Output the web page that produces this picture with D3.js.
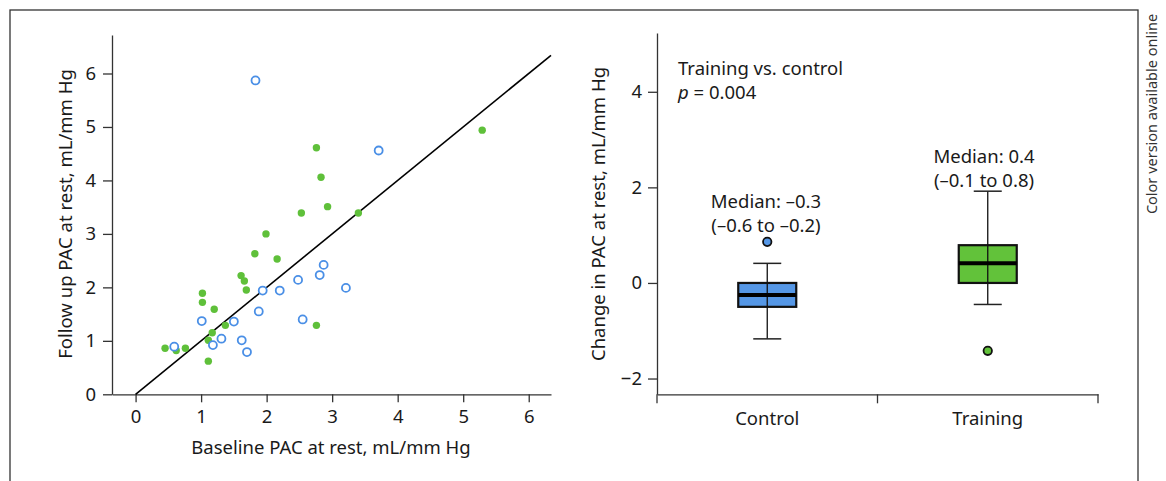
<!DOCTYPE html>
<html><head><meta charset="utf-8">
<script src="https://cdn.jsdelivr.net/npm/d3@7"></script>
<style>
body{margin:0;background:#fff;}
svg text{font-family:"Noto Sans","Open Sans",sans-serif;fill:#1a1a1a;}
</style></head>
<body>
<svg id="c" width="1166" height="481"></svg>
<script>
// ---- data ----
const controlBaseline = [1.83,3.71,2.87,2.81,2.48,3.21,1.94,2.20,1.88,1.01,2.55,1.50,1.31,1.62,1.18,0.59,1.70];
const controlFollowup = [5.87,4.56,2.42,2.23,2.14,1.99,1.94,1.94,1.55,1.37,1.40,1.36,1.04,1.01,0.92,0.89,0.79];
const trainingBaseline = [5.29,2.76,2.83,2.93,2.53,3.40,1.99,1.82,2.16,1.61,1.66,1.69,1.02,1.02,1.20,1.37,2.76,1.17,1.11,0.45,0.76,0.62,1.11];
const trainingFollowup = [4.94,4.61,4.06,3.51,3.39,3.39,3.00,2.63,2.53,2.22,2.12,1.95,1.89,1.72,1.59,1.29,1.29,1.15,1.01,0.86,0.86,0.82,0.62];
const scatterTicks = [0,1,2,3,4,5,6];

const groups = ["Control","Training"];
const boxLow = [-1.17,-0.45];
const boxQ1 = [-0.50,0.00];
const boxMedian = [-0.25,0.41];
const boxQ3 = [0.00,0.79];
const boxHigh = [0.41,1.92];
const boxOutliers = [[0.86],[-1.42]];
const boxTicks = [-2,0,2,4];
const medianLabels = [["Median: \u20130.3","(\u20130.6 to \u20130.2)"],["Median: 0.4","(\u20130.1 to 0.8)"]];

const blue = "#4a8fe6", green = "#5fc03a";
const boxFill = ["#5597e6","#62c23a"];
const axisCol = "#333";
const FS = "18.5px";

const svg = d3.select("#c");
// frame
svg.append("rect").attr("x",10).attr("y",10).attr("width",1128).attr("height",500)
  .attr("fill","none").attr("stroke","#333").attr("stroke-width",1.3);
svg.append("text").attr("transform","translate(1157,114) rotate(-90)")
  .attr("text-anchor","middle").style("font-size","14.5px").style("fill","#333")
  .text("Color version available online");

function styleAxis(g){
  g.selectAll("path,line").attr("stroke",axisCol).attr("stroke-width",1.3);
  g.selectAll("text").style("font-size",FS).style("font-family",'"Noto Sans","Open Sans",sans-serif').attr("fill","#1a1a1a");
}

// ---- left scatter ----
const xL = d3.scaleLinear().domain([-0.36,6.34]).range([112,551]);
const yL = d3.scaleLinear().domain([0,6.72]).range([394.3,35]);
const gL = svg.append("g");
gL.append("g").attr("transform",`translate(0,${yL(0)})`)
  .call(d3.axisBottom(xL).tickValues(scatterTicks).tickSize(8).tickSizeOuter(0).tickPadding(8).tickFormat(d3.format("d")))
  .call(styleAxis);
gL.append("g").attr("transform",`translate(${xL(-0.36)},0)`)
  .call(d3.axisLeft(yL).tickValues(scatterTicks).tickSize(9).tickSizeOuter(0).tickPadding(7).tickFormat(d3.format("d")))
  .call(styleAxis);
gL.append("line").attr("x1",xL(0)).attr("y1",yL(0)).attr("x2",xL(6.34)).attr("y2",yL(6.34))
  .attr("stroke","#000").attr("stroke-width",1.6);
gL.selectAll(".tp").data(d3.range(trainingBaseline.length)).join("circle")
  .attr("cx",i=>xL(trainingBaseline[i])).attr("cy",i=>yL(trainingFollowup[i])).attr("r",3.7)
  .attr("fill",green);
gL.selectAll(".cp").data(d3.range(controlBaseline.length)).join("circle")
  .attr("cx",i=>xL(controlBaseline[i])).attr("cy",i=>yL(controlFollowup[i])).attr("r",4)
  .attr("fill","#fff").attr("stroke",blue).attr("stroke-width",1.8);
gL.append("text").attr("x",331).attr("y",454).attr("text-anchor","middle").style("font-size",FS)
  .text("Baseline PAC at rest, mL/mm Hg");
gL.append("text").attr("transform","translate(72,214) rotate(-90)").attr("text-anchor","middle").style("font-size",FS)
  .text("Follow up PAC at rest, mL/mm Hg");

// ---- right box plot ----
const xR = d3.scaleBand().domain(groups).range([657,1098]).padding(0);
const yR = d3.scaleLinear().domain([-2.33,5.23]).range([394.3,33]);
const gR = svg.append("g");
gR.append("g").attr("transform",`translate(657,0)`)
  .call(d3.axisLeft(yR).tickValues(boxTicks).tickSize(9).tickSizeOuter(0).tickPadding(6).tickFormat(d=>d<0?"\u2212"+Math.abs(d):d))
  .call(styleAxis);
gR.append("g").attr("transform",`translate(0,${yR(-2.33)})`)
  .call(d3.axisBottom(xR).tickSize(0).tickSizeOuter(0).tickPadding(18)).call(styleAxis);
const bounds = [xR(groups[0]), xR(groups[1]), xR(groups[1])+xR.bandwidth()];
gR.selectAll(".bt").data(bounds).join("line")
  .attr("x1",d=>d).attr("x2",d=>d).attr("y1",yR(-2.33)).attr("y2",yR(-2.33)+9)
  .attr("stroke",axisCol).attr("stroke-width",1.3);

const bw = 58, cw = 28;
groups.forEach((g,i)=>{
  const cx = xR(g)+xR.bandwidth()/2;
  const gg = gR.append("g");
  gg.append("rect").attr("x",cx-bw/2).attr("y",yR(boxQ3[i])).attr("width",bw)
    .attr("height",yR(boxQ1[i])-yR(boxQ3[i])).attr("fill",boxFill[i]).attr("stroke","#111").attr("stroke-width",2.2);
  gg.append("line").attr("x1",cx).attr("x2",cx).attr("y1",yR(boxHigh[i])).attr("y2",yR(boxLow[i]))
    .attr("stroke","#111").attr("stroke-width",1.3);
  [boxHigh[i],boxLow[i]].forEach(v=>gg.append("line").attr("x1",cx-cw/2).attr("x2",cx+cw/2)
    .attr("y1",yR(v)).attr("y2",yR(v)).attr("stroke","#222").attr("stroke-width",1.5));
  gg.append("line").attr("x1",cx-bw/2).attr("x2",cx+bw/2).attr("y1",yR(boxMedian[i])).attr("y2",yR(boxMedian[i]))
    .attr("stroke","#000").attr("stroke-width",4);
  boxOutliers[i].forEach(v=>gg.append("circle").attr("cx",cx).attr("cy",yR(v)).attr("r",4.2)
    .attr("fill",boxFill[i]).attr("stroke","#111").attr("stroke-width",1.8));
});
const lblX = [766,984], lblY = [208,163];
medianLabels.forEach((ls,i)=>{
  ls.forEach((t,j)=>gR.append("text").attr("x",lblX[i]).attr("y",lblY[i]+j*23.5)
    .attr("text-anchor","middle").style("font-size",FS).text(t));
});
gR.append("text").attr("x",678).attr("y",75).style("font-size",FS).text("Training vs. control");
const pt = gR.append("text").attr("x",678).attr("y",98.5).style("font-size",FS);
pt.append("tspan").style("font-style","italic").text("p");
pt.append("tspan").text(" = 0.004");
gR.append("text").attr("transform","translate(605,214) rotate(-90)").attr("text-anchor","middle").style("font-size",FS)
  .text("Change in PAC at rest, mL/mm Hg");
</script>
</body></html>
